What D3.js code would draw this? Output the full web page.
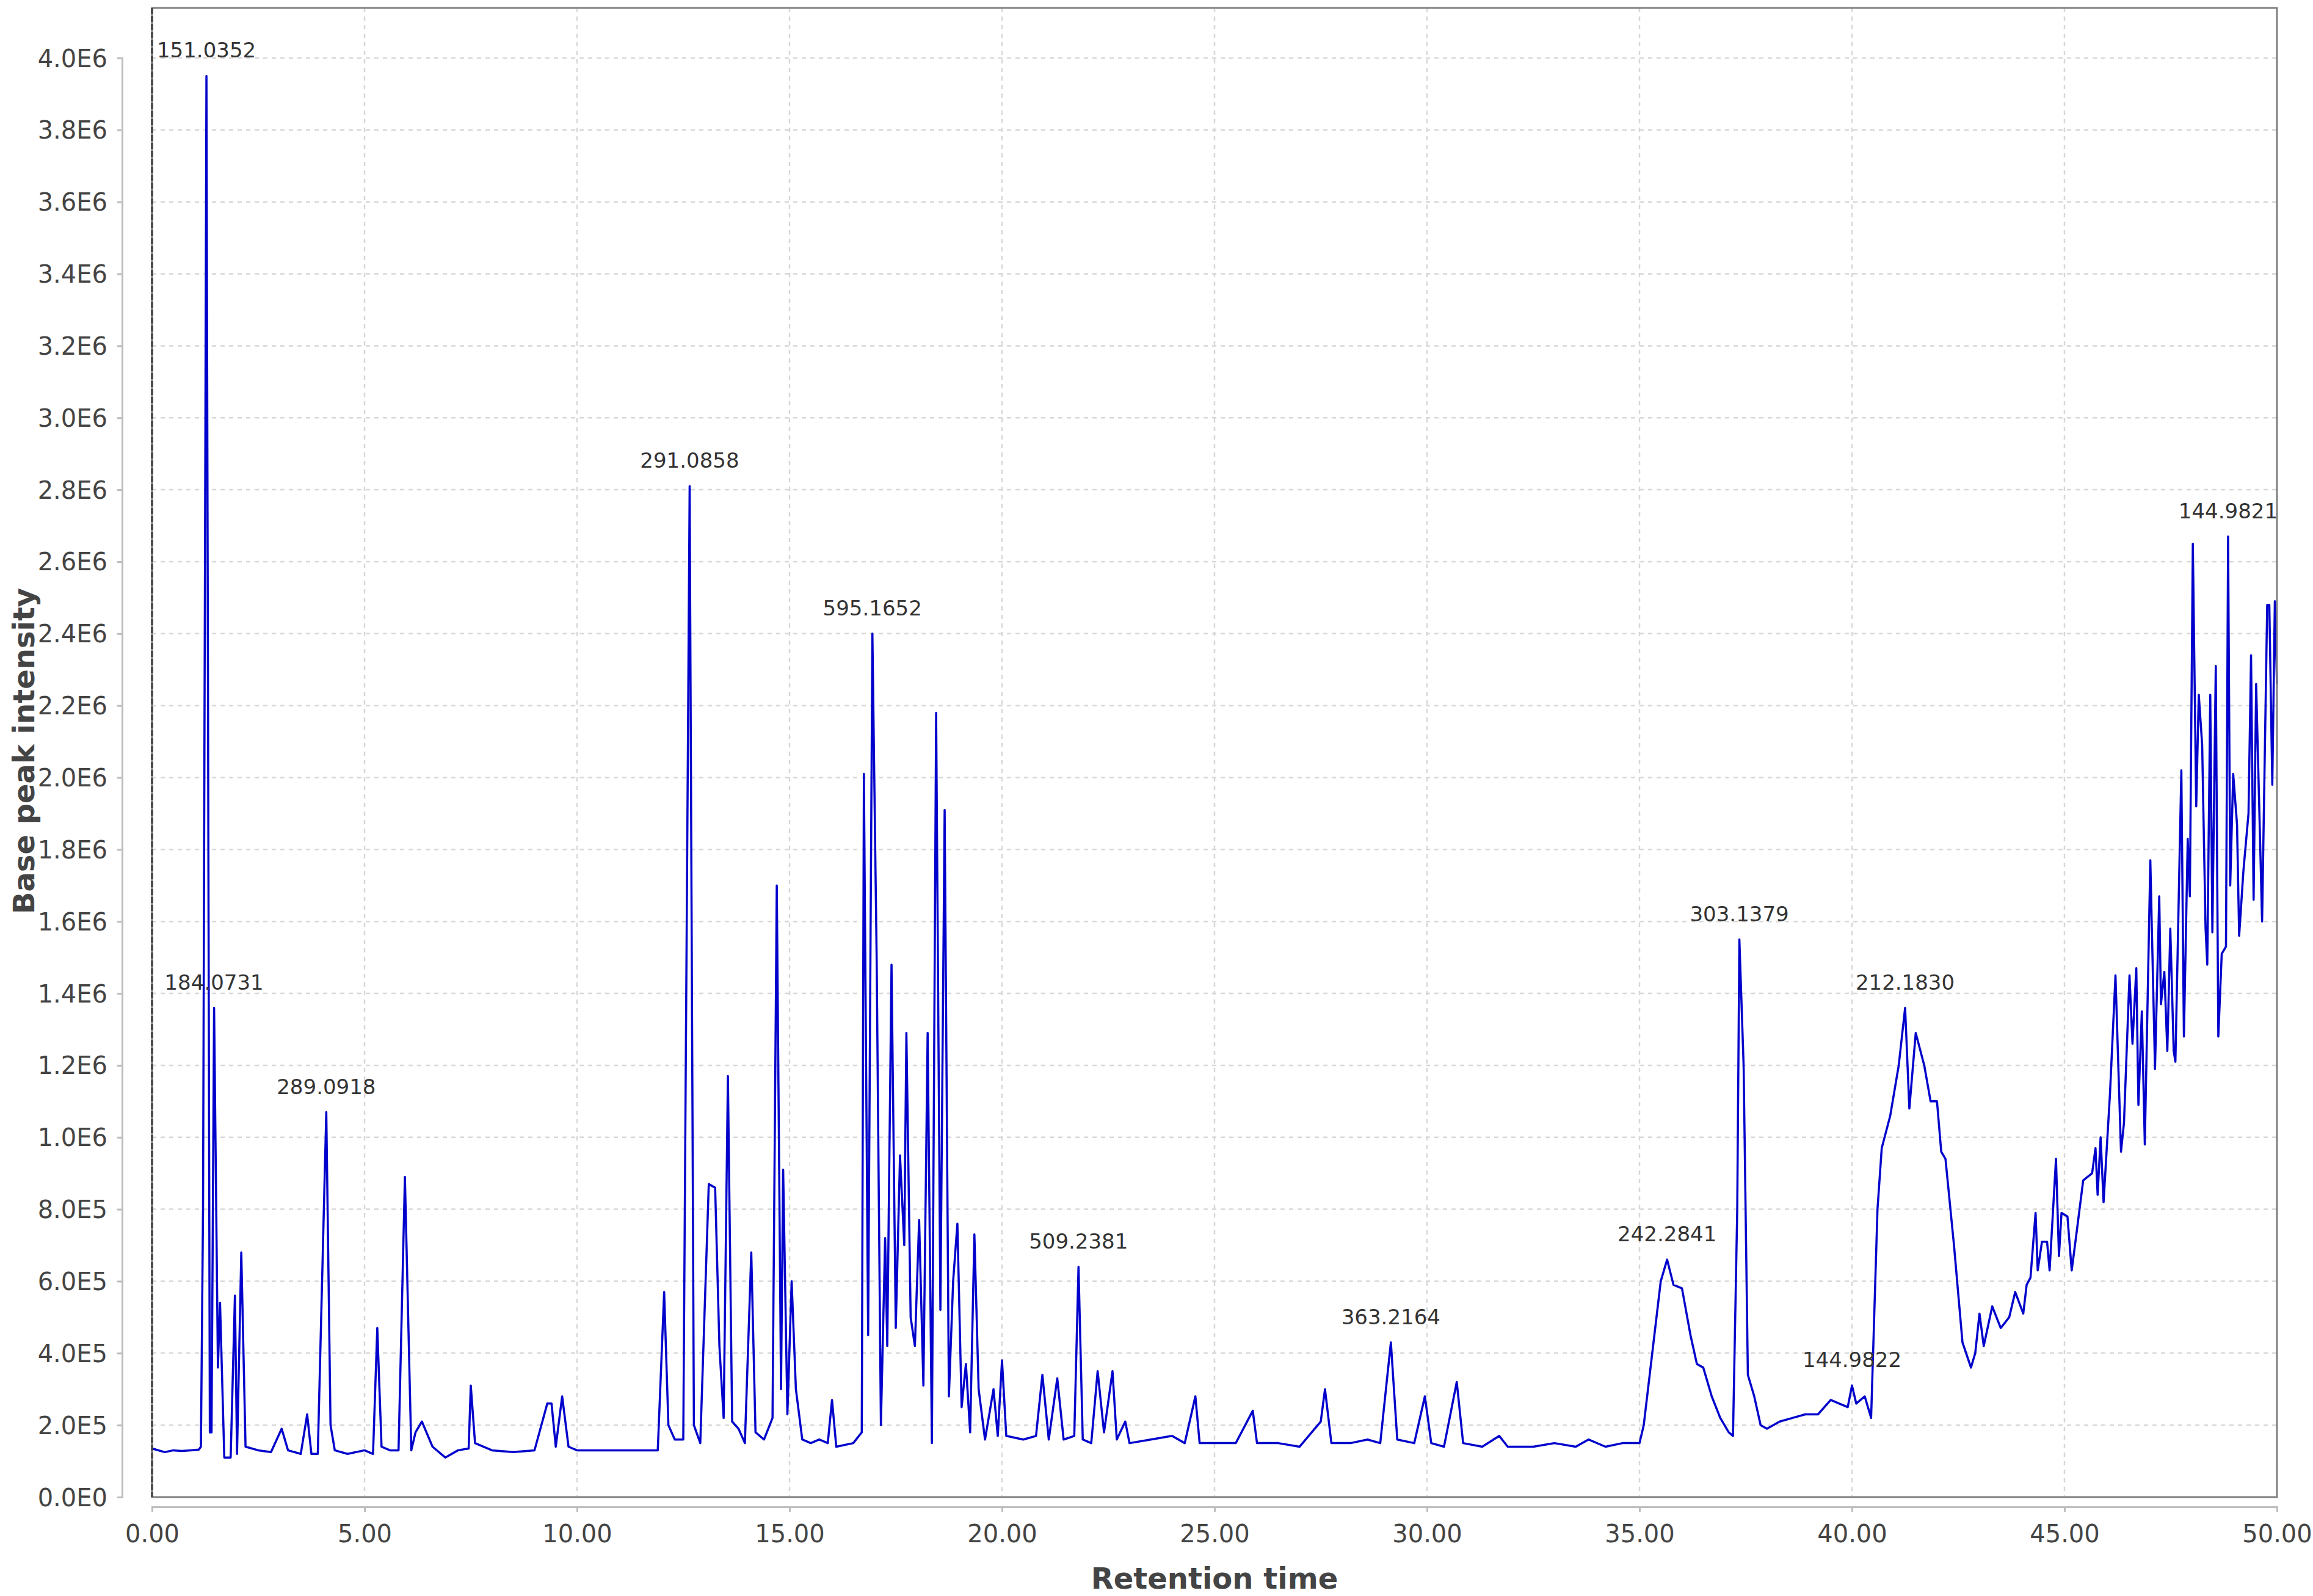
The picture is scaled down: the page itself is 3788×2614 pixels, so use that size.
<!DOCTYPE html>
<html><head><meta charset="utf-8">
<script src="https://cdn.jsdelivr.net/npm/d3@7"></script>
<style>body{margin:0;background:#fff}svg{display:block}</style>
</head><body>
<script>
// Retention time (min)
const times = [0,0.3,0.5,0.7,0.9,1.1,1.15,1.2,1.28,1.36,1.4,1.46,1.55,1.6,1.7,1.85,1.95,2.0,2.1,2.2,2.5,2.8,3.05,3.2,3.5,3.65,3.75,3.9,4.1,4.2,4.3,4.6,5.0,5.2,5.3,5.4,5.6,5.8,5.95,6.1,6.2,6.35,6.6,6.9,7.2,7.45,7.5,7.6,8,8.5,9,9.3,9.4,9.5,9.65,9.8,10,11,11.9,12.05,12.15,12.3,12.5,12.65,12.75,12.9,13.1,13.25,13.35,13.45,13.55,13.65,13.8,13.95,14.1,14.2,14.4,14.6,14.7,14.8,14.85,14.95,15.05,15.15,15.3,15.5,15.7,15.9,16.0,16.1,16.5,16.7,16.75,16.85,16.95,17.05,17.15,17.25,17.3,17.4,17.5,17.6,17.7,17.75,17.85,17.95,18.05,18.15,18.25,18.35,18.45,18.55,18.65,18.75,18.85,18.95,19.05,19.15,19.25,19.35,19.45,19.6,19.8,19.9,20.0,20.1,20.5,20.8,20.95,21.1,21.3,21.45,21.7,21.8,21.9,22.1,22.25,22.4,22.6,22.7,22.9,23.0,23.5,24,24.3,24.55,24.65,25,25.5,25.9,26.0,26.5,27,27.5,27.6,27.75,28.2,28.6,28.9,29.15,29.3,29.7,29.95,30.1,30.4,30.7,30.85,31.3,31.7,31.9,32.5,33,33.5,33.8,34.2,34.6,35,35.1,35.3,35.5,35.65,35.8,36.0,36.2,36.35,36.5,36.7,36.9,37.1,37.2,37.3,37.35,37.45,37.55,37.7,37.85,38.0,38.3,38.6,38.9,39.2,39.5,39.7,39.9,40.0,40.1,40.3,40.45,40.6,40.7,40.9,41.1,41.25,41.35,41.5,41.7,41.85,42.0,42.1,42.2,42.4,42.6,42.8,42.9,43.0,43.1,43.3,43.5,43.7,
43.84,44.03,44.11,44.20,44.32,44.37,44.47,44.59,44.65,44.80,44.87,44.93,45.07,45.17,45.29,45.44,45.65,45.73,45.78,45.85,45.92,46.07,46.20,46.33,46.40,46.53,46.60,46.69,46.74,46.82,46.89,47.02,47.13,47.23,47.27,47.35,47.42,47.49,47.57,47.61,47.75,47.81,47.90,47.95,48.02,48.10,48.16,48.24,48.32,48.36,48.43,48.48,48.56,48.62,48.70,48.80,48.85,48.90,48.97,49.06,49.11,49.21,49.33,49.39,49.45,49.51,49.65,49.77,49.82,49.89,49.95,50.0];
// Base peak intensity (x 1E5)
const intensity = [1.35,1.25,1.3,1.28,1.3,1.32,1.4,8,39.5,1.8,1.8,13.6,3.6,5.4,1.1,1.1,5.6,1.2,6.8,1.4,1.3,1.25,1.9,1.3,1.2,2.3,1.2,1.2,10.7,2.0,1.3,1.2,1.3,1.2,4.7,1.4,1.3,1.3,8.9,1.3,1.8,2.1,1.4,1.1,1.3,1.35,3.1,1.5,1.3,1.25,1.3,2.6,2.6,1.4,2.8,1.4,1.3,1.3,1.3,5.7,2.0,1.6,1.6,28.1,2.0,1.5,8.7,8.6,4.2,2.2,11.7,2.1,1.9,1.5,6.8,1.8,1.6,2.2,17.0,3.0,9.1,2.3,6.0,3.0,1.6,1.5,1.6,1.5,2.7,1.4,1.5,1.8,20.1,4.5,24.0,15,2.0,7.2,4.2,14.8,4.7,9.5,7.0,12.9,5.0,4.2,7.7,3.1,12.9,1.5,21.8,5.2,19.1,2.8,6,7.6,2.5,3.7,1.8,7.3,3,1.6,3.0,1.7,3.8,1.7,1.6,1.7,3.4,1.6,3.3,1.6,1.7,6.4,1.6,1.5,3.5,1.8,3.5,1.6,2.1,1.5,1.6,1.7,1.5,2.8,1.5,1.5,1.5,2.4,1.5,1.5,1.4,2.1,3.0,1.5,1.5,1.6,1.5,4.3,1.6,1.5,2.8,1.5,1.4,3.2,1.5,1.4,1.7,1.4,1.4,1.5,1.4,1.6,1.4,1.5,1.5,2.0,4.0,6.0,6.6,5.9,5.8,4.5,3.7,3.6,2.8,2.2,1.8,1.7,8,15.5,12,3.4,2.8,2.0,1.9,2.1,2.2,2.3,2.3,2.7,2.6,2.5,3.1,2.6,2.8,2.2,8.0,9.7,10.6,12.0,13.6,10.8,12.9,12.0,11.0,11.0,9.6,9.4,7,4.3,3.6,4.0,5.1,4.2,5.3,4.7,5.0,
5.7,5.1,5.9,6.1,7.9,6.3,7.1,7.1,6.3,9.4,6.7,7.9,7.8,6.3,7.4,8.8,9.0,9.7,8.4,10.0,8.2,11.2,14.5,9.6,10.4,14.5,12.6,14.7,10.9,13.5,9.8,17.7,11.9,16.7,13.7,14.6,12.4,15.8,12.4,12.1,20.2,12.8,18.3,16.7,26.5,19.2,22.3,20.9,15.8,14.8,22.3,15.7,23.1,12.8,15.1,15.3,26.7,17.0,20.1,18.7,15.6,17.4,19.0,23.4,16.6,22.6,16.0,24.8,24.8,19.8,24.9,22.6];
// Peak annotations
const labelText = ["151.0352","184.0731","289.0918","291.0858","595.1652","509.2381","363.2164","242.2841","303.1379","144.9822","212.1830","144.9821"];
const labelTime = [1.28,1.46,4.1,12.65,16.95,21.8,29.15,35.65,37.35,40.0,41.25,48.85];
const labelVal  = [39.5,13.6,10.7,28.1,24.0,6.4,4.3,6.6,15.5,3.1,13.6,26.7];
const xTicks = [0,5,10,15,20,25,30,35,40,45,50];
const yTicks = d3.range(0,41,2); // x 1E5

const W=3788,H=2614;
const L=249,R=3729,T=13,B=2452;
const svg=d3.select("body").append("svg").attr("width",W).attr("height",H);
const x=d3.scaleLinear().domain([0,50]).range([L,R]);
const y=d3.scaleLinear().domain([0,40]).range([B,95]);
const font="'DejaVu Sans', Verdana, sans-serif";

// grid
svg.append("g").selectAll("line").data(yTicks.slice(1)).join("line")
 .attr("x1",L).attr("x2",R).attr("y1",d=>y(d)).attr("y2",d=>y(d))
 .attr("stroke","#d8d8d8").attr("stroke-width",2.5).attr("stroke-dasharray","7,7");
svg.append("g").selectAll("line").data(xTicks.slice(1)).join("line")
 .attr("y1",T).attr("y2",B).attr("x1",d=>x(d)).attr("x2",d=>x(d))
 .attr("stroke","#d8d8d8").attr("stroke-width",2.5).attr("stroke-dasharray","7,7");

// line
const data=times.map((t,i)=>[t,intensity[i]]);
svg.append("path").datum(data)
 .attr("d",d3.line().x(d=>x(d[0])).y(d=>y(d[1])))
 .attr("fill","none").attr("stroke","#0000cc").attr("stroke-width",3.5).attr("stroke-linejoin","round");

// frame
svg.append("rect").attr("x",L).attr("y",T).attr("width",R-L).attr("height",B-T)
 .attr("fill","none").attr("stroke","#808080").attr("stroke-width",3);
svg.append("line").attr("x1",L).attr("x2",L).attr("y1",T).attr("y2",B).attr("stroke","#444").attr("stroke-width",3.5).attr("stroke-dasharray","10,3");

// axes
const ya=svg.append("g").attr("transform","translate(200,0)")
 .call(d3.axisLeft(y).tickValues(yTicks).tickSize(8).tickPadding(16)
   .tickFormat(d=>d===0?"0.0E0":(d>=10?(d/10).toFixed(1)+"E6":d.toFixed(1)+"E5")));
const xa=svg.append("g").attr("transform","translate(0,2468)")
 .call(d3.axisBottom(x).tickValues(xTicks).tickSize(8).tickPadding(14).tickFormat(d3.format(".2f")));
[ya,xa].forEach(a=>{
 a.select(".domain").attr("stroke","#bdbdbd").attr("stroke-width",3);
 a.selectAll(".tick line").attr("stroke","#bdbdbd").attr("stroke-width",3);
 a.selectAll("text").attr("fill","#444").style("font-family",font).style("font-size","40px");
});
xa.selectAll("text").attr("dy","0.9em");
ya.selectAll("text").attr("dy","0.35em");

// labels
svg.append("g").selectAll("text").data(labelText).join("text")
 .attr("x",(d,i)=>x(labelTime[i])).attr("y",(d,i)=>y(labelVal[i])-30)
 .attr("text-anchor","middle").attr("fill","#333").style("font-family",font).style("font-size","34px")
 .text(d=>d);

// titles
svg.append("text").attr("x",(L+R)/2).attr("y",2602).attr("text-anchor","middle")
 .attr("fill","#444").style("font-family",font).style("font-size","48px").style("font-weight","bold").text("Retention time");
svg.append("text").attr("transform","translate(56,1230) rotate(-90)").attr("text-anchor","middle")
 .attr("fill","#444").style("font-family",font).style("font-size","48px").style("font-weight","bold").text("Base peak intensity");
</script>
</body></html>
